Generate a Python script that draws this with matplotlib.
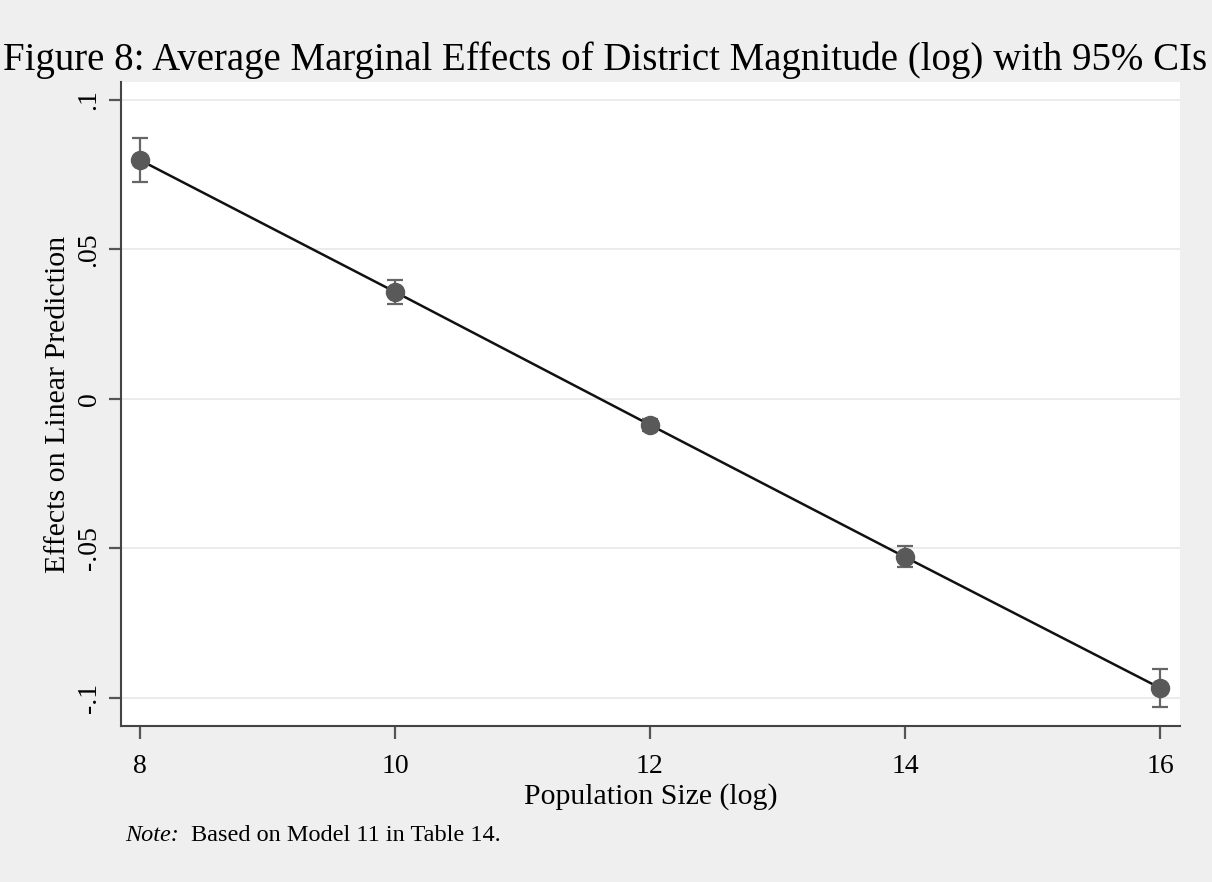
import numpy as np
import matplotlib.pyplot as plt

# Marginal effects of district magnitude over population size
pop_size = [8, 10, 12, 14, 16]
effect = [0.0799, 0.0358, -0.0087, -0.0529, -0.0967]
ci_low = [0.0726, 0.0318, -0.0107, -0.0562, -0.1030]
ci_high = [0.0873, 0.0398, -0.0067, -0.0492, -0.0903]

y_ticks = [-0.1, -0.05, 0, 0.05, 0.1]
y_tick_labels = ['-.1', '-.05', '0', '.05', '.1']

plt.rcParams['font.family'] = ['Liberation Serif', 'DejaVu Serif']

bg = '#efefef'
fig = plt.figure(figsize=(12.12, 8.82), dpi=100, facecolor=bg)
ax = fig.add_axes([0.0998, 0.177, 0.8738, 0.730])
ax.set_facecolor('white')

effect = np.array(effect)
yerr = [effect - np.array(ci_low), np.array(ci_high) - effect]

ax.plot(pop_size, effect, color='#111111', lw=1.8, zorder=2)
ax.errorbar(pop_size, effect, yerr=yerr, fmt='none', ecolor='#666666',
            elinewidth=1.6, capsize=6, capthick=1.6, zorder=3)
ax.plot(pop_size, effect, 'o', color='#595959', markersize=13, zorder=4)

ax.set_xlim(7.851, 16.157)
ax.set_ylim(-0.1094, 0.106)
ax.set_xticks(pop_size)
ax.set_yticks(y_ticks)
ax.set_yticklabels(y_tick_labels, rotation=90, va='center')
ax.tick_params(axis='both', labelsize=20, length=9, width=1.6, color='#555555')
ax.tick_params(axis='x', pad=11)
ax.tick_params(axis='y', pad=5)
ax.grid(axis='y', color='#ebebeb', lw=1.4)
ax.set_axisbelow(True)

for side in ['top', 'right']:
    ax.spines[side].set_visible(False)
for side in ['left', 'bottom']:
    ax.spines[side].set_color('#444444')
    ax.spines[side].set_linewidth(1.5)

ax.set_xlabel('Population Size (log)', fontsize=21.5)
ax.xaxis.set_label_coords(0.5, -0.110)
ax.xaxis.label.set_va('center')
ax.set_ylabel('Effects on Linear Prediction', fontsize=21.5)
ax.yaxis.set_label_coords(-0.0595, 0.5)
ax.yaxis.label.set_va('center')

fig.text(0.4995, 0.932, 'Figure 8: Average Marginal Effects of District Magnitude (log) with 95% CIs',
         ha='center', va='center', fontsize=28)
fig.text(0.103, 0.047, 'Note:', fontsize=17.5, style='italic', ha='left', va='baseline')
fig.text(0.1575, 0.047, 'Based on Model 11 in Table 14.', fontsize=17.5, ha='left', va='baseline')

plt.savefig('out.png', dpi=100, facecolor=bg)
